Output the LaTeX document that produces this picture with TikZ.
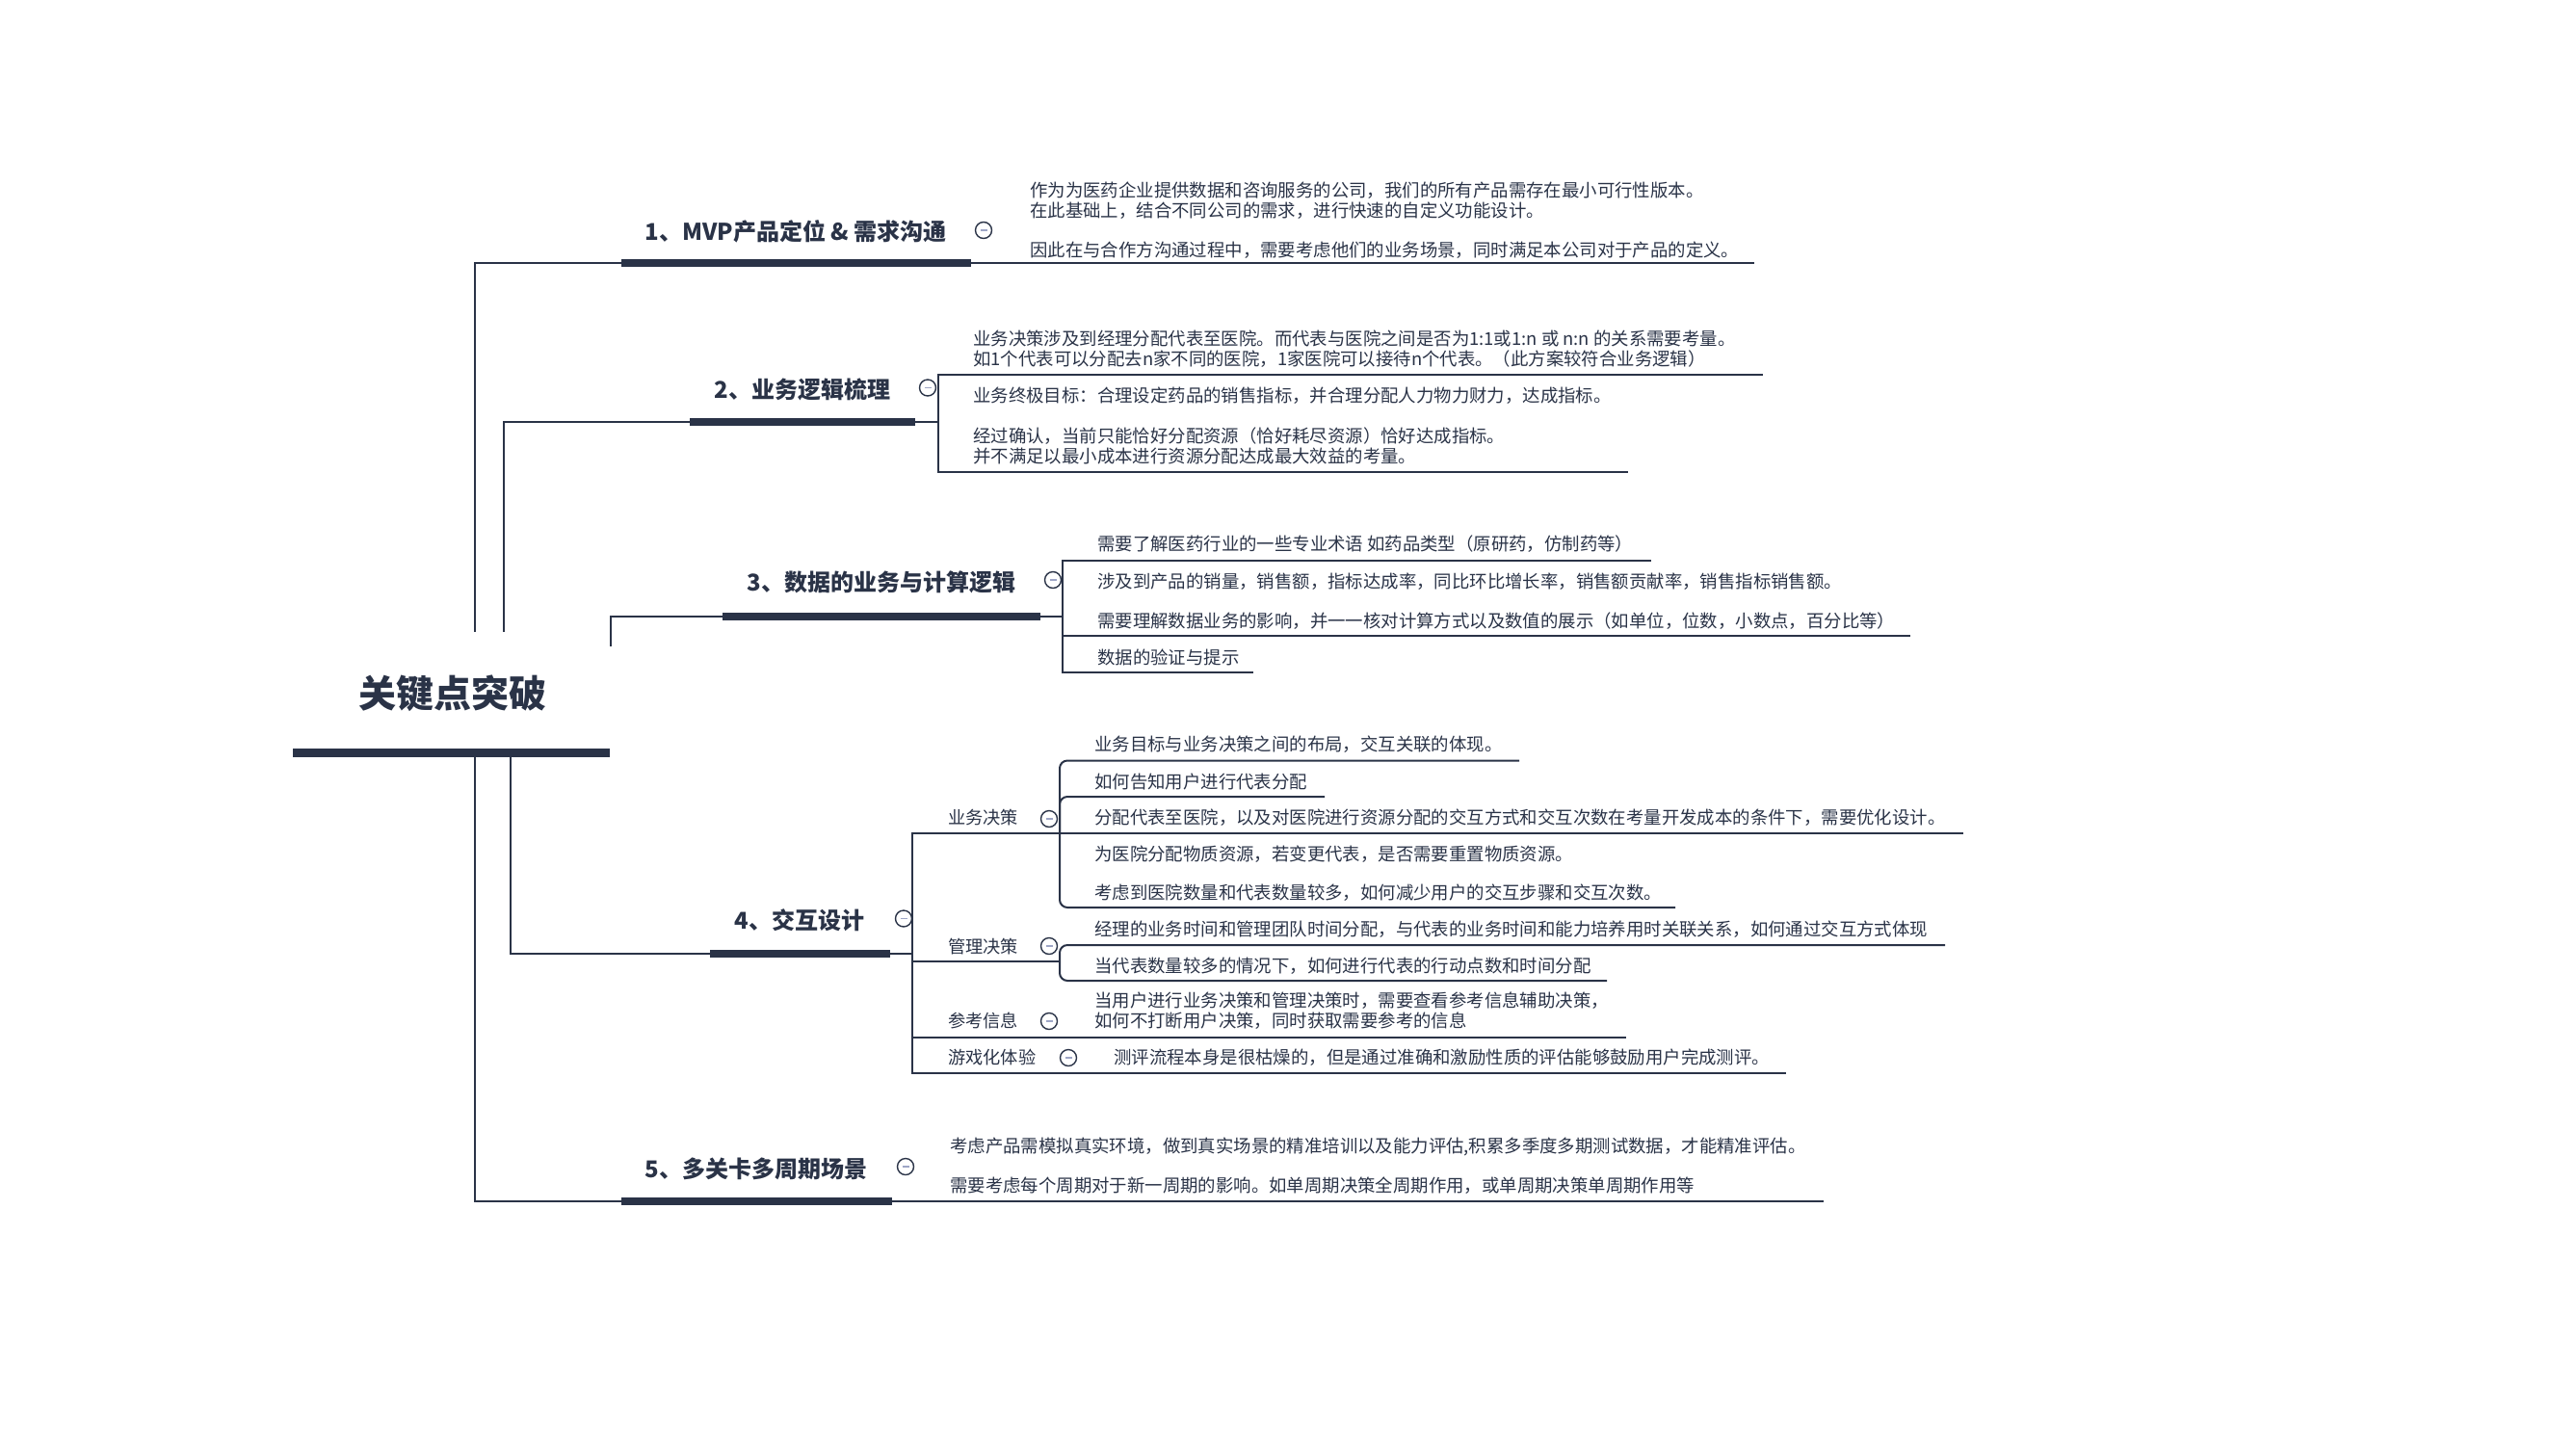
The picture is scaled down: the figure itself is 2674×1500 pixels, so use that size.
\documentclass[tikz,border=0pt]{standalone}
\usepackage{fontspec}
\usepackage{tikz}
\usetikzlibrary{positioning}
\newfontfamily\cjk{Noto Sans CJK SC}
\definecolor{ink}{HTML}{2A3347}
\definecolor{foldmark}{HTML}{9EA6C6}
\tikzset{
    rootlabel/.style={font=\cjk\bfseries\fontsize{39}{44}\selectfont, text=ink, inner sep=0pt},
    topic/.style={font=\cjk\bfseries\fontsize{24}{28}\selectfont, text=ink, inner sep=0pt},
    sublabel/.style={font=\cjk\fontsize{18.2}{20.5}\selectfont, text=ink, inner sep=0pt, anchor=west},
    leaf/.style={font=\cjk\fontsize{18.4}{20.5}\selectfont, text=ink, inner sep=0pt, anchor=west, align=left},
    rootbar/.style={draw=ink, line width=9pt},
    bar/.style={draw=ink, line width=8pt},
    link/.style={draw=ink, line width=2pt},
    elbow/.style={link, rounded corners=8pt},
    fold/.style={circle, draw=ink, fill=white, line width=1.4pt, minimum size=17pt, inner sep=0pt,
        path picture={\draw[foldmark, line width=1.8pt]
            ([xshift=-3.5pt]path picture bounding box.center) -- ([xshift=3.5pt]path picture bounding box.center);}},
}

\begin{document}
\begin{tikzpicture}[x=1pt, y=-1pt]
        \useasboundingbox (0,0) rectangle (2674,1500);

        % root
        \node[rootlabel] (root) at (470,720) {关键点突破};
        \coordinate (rootL) at (304,781);
        \coordinate (rootR) at (633,781);
        \coordinate (up1) at (493,656);
        \coordinate (up2) at (523,656);
        \coordinate (up3) at (634,671);
        \coordinate (dn4) at (530,781);
        \coordinate (dn5) at (493,781);

        % topics
        \node[topic] (t1) at (826,240) {1、MVP产品定位 \& 需求沟通};
        \node[topic] (t2) at (833,404) {2、业务逻辑梳理};
        \node[topic] (t3) at (915,604) {3、数据的业务与计算逻辑};
        \node[topic] (t4) at (830,955) {4、交互设计};
        \node[topic] (t5) at (785,1213) {5、多关卡多周期场景};
        \coordinate (b1L) at (645,273);  \coordinate (b1R) at (1008,273);
        \coordinate (b2L) at (716,438);  \coordinate (b2R) at (950,438);
        \coordinate (b3L) at (750,639.5);  \coordinate (b3R) at (1080,639.5);
        \coordinate (b4L) at (737,990);  \coordinate (b4R) at (924,990);
        \coordinate (b5L) at (645,1246.5);  \coordinate (b5R) at (926,1246.5);

        \draw[link] (up1) |- (b1L);
        \draw[link] (up2) |- (b2L);
        \draw[link] (up3) |- (b3L);
        \draw[link] (dn4) |- (b4L);
        \draw[link] (dn5) |- (b5L);

        % 1
        \node[leaf] (l1) at (1069,228.5) {作为为医药企业提供数据和咨询服务的公司，我们的所有产品需存在最小可行性版本。\\
            在此基础上，结合不同公司的需求，进行快速的自定义功能设计。\\[20.5pt]
            因此在与合作方沟通过程中，需要考虑他们的业务场景，同时满足本公司对于产品的定义。};
        \draw[link] (b1R) -- (1821,273);

        % 2
        \coordinate (j2) at (974,438);
        \node[leaf] (l21) at (1010,362) {业务决策涉及到经理分配代表至医院。而代表与医院之间是否为1:1或1:n 或 n:n 的关系需要考量。\\
            如1个代表可以分配去n家不同的医院，1家医院可以接待n个代表。（此方案较符合业务逻辑）};
        \node[leaf] (l22) at (1010,411) {业务终极目标：合理设定药品的销售指标，并合理分配人力物力财力，达成指标。};
        \node[leaf] (l23) at (1010,463) {经过确认，当前只能恰好分配资源（恰好耗尽资源）恰好达成指标。\\
            并不满足以最小成本进行资源分配达成最大效益的考量。};
        \draw[link] (b2R) -- (j2);
        \draw[link] (j2) |- (1830,389);
        \draw[link] (j2) |- (1690,489.5);

        % 3
        \coordinate (j3) at (1103,639.5);
        \node[leaf] (l31) at (1139,564.5) {需要了解医药行业的一些专业术语 如药品类型（原研药，仿制药等）};
        \node[leaf] (l32) at (1139,604) {涉及到产品的销量，销售额，指标达成率，同比环比增长率，销售额贡献率，销售指标销售额。};
        \node[leaf] (l33) at (1139,644.5) {需要理解数据业务的影响，并一一核对计算方式以及数值的展示（如单位，位数，小数点，百分比等）};
        \node[leaf] (l34) at (1139,682) {数据的验证与提示};
        \draw[link] (b3R) -- (j3);
        \draw[link] (j3) |- (1714,581.5);
        \draw[link] (j3) |- (1983,660);
        \draw[link] (j3) |- (1301,697.5);

        % 4
        \coordinate (j4) at (947,990);
        \coordinate (j41) at (1100,865);
        \coordinate (j42) at (1100,998);
        \node[sublabel] (s41) at (984,849) {业务决策};
        \node[sublabel] (s42) at (984,983) {管理决策};
        \node[sublabel] (s43) at (984,1060) {参考信息};
        \node[sublabel] (s44) at (984,1098) {游戏化体验};
        \draw[link] (b4R) -- (j4);
        \draw[link] (j4) |- (j41);
        \draw[link] (j4) |- (j42);
        \draw[link] (j4) |- (1688,1076.5);
        \draw[link] (j4) |- (1854,1114);

        \node[leaf] (l411) at (1136,772.5) {业务目标与业务决策之间的布局，交互关联的体现。};
        \node[leaf] (l412) at (1136,811.5) {如何告知用户进行代表分配};
        \node[leaf] (l413) at (1136,848.5) {分配代表至医院，以及对医院进行资源分配的交互方式和交互次数在考量开发成本的条件下，需要优化设计。};
        \node[leaf] (l414) at (1136,887) {为医院分配物质资源，若变更代表，是否需要重置物质资源。};
        \node[leaf] (l415) at (1136,926.5) {考虑到医院数量和代表数量较多，如何减少用户的交互步骤和交互次数。};
        \draw[elbow] (j41) |- (1577,789.5);
        \draw[elbow] (j41) |- (1375,827);
        \draw[link] (j41) -- (2038,865);
        \draw[elbow] (j41) |- (1739,942);

        \node[leaf] (l421) at (1136,965) {经理的业务时间和管理团队时间分配，与代表的业务时间和能力培养用时关联关系，如何通过交互方式体现};
        \node[leaf] (l422) at (1136,1002.5) {当代表数量较多的情况下，如何进行代表的行动点数和时间分配};
        \draw[elbow] (j42) |- (2019,981);
        \draw[elbow] (j42) |- (1668,1018);

        \node[leaf] (l431) at (1136,1049) {当用户进行业务决策和管理决策时，需要查看参考信息辅助决策，\\
            如何不打断用户决策，同时获取需要参考的信息};
        \node[leaf] (l441) at (1156,1098) {测评流程本身是很枯燥的，但是通过准确和激励性质的评估能够鼓励用户完成测评。};

        % 5
        \node[leaf] (l5) at (986,1210) {考虑产品需模拟真实环境，做到真实场景的精准培训以及能力评估,积累多季度多期测试数据，才能精准评估。\\[20.5pt]
            需要考虑每个周期对于新一周期的影响。如单周期决策全周期作用，或单周期决策单周期作用等};
        \draw[link] (b5R) -- (1893,1246.5);

        % bars
        \draw[rootbar] (rootL) -- (rootR);
        \draw[bar] (b1L) -- (b1R);
        \draw[bar] (b2L) -- (b2R);
        \draw[bar] (b3L) -- (b3R);
        \draw[bar] (b4L) -- (b4R);
        \draw[bar] (b5L) -- (b5R);

        % fold marks
        \node[fold] (f1) at (1021,239) {};
        \node[fold] (f2) at (963,402.5) {};
        \node[fold] (f3) at (1093,602) {};
        \node[fold] (f4) at (938,953.5) {};
        \node[fold] (f5) at (940,1211) {};
        \node[fold] (f41) at (1089,850) {};
        \node[fold] (f42) at (1089,982) {};
        \node[fold] (f43) at (1089,1060) {};
        \node[fold] (f44) at (1109,1098) {};
    \end{tikzpicture}
\end{document}
